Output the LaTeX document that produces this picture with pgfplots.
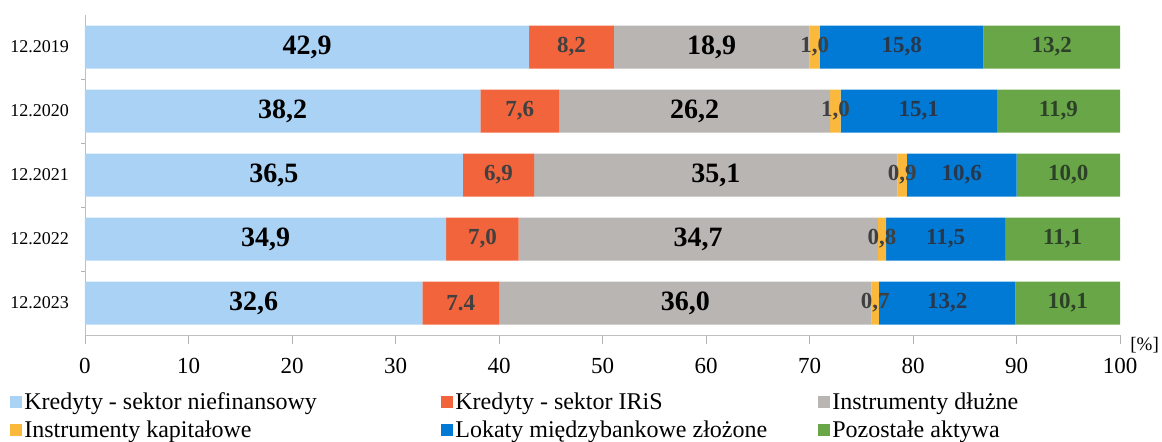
\documentclass[border=0pt]{standalone}
\usepackage{pgfplots}
\pgfplotsset{compat=1.18}
\usepackage{fontspec}
\setmainfont{Liberation Serif}
\definecolor{c1}{RGB}{170,210,245}
\definecolor{c2}{RGB}{242,100,60}
\definecolor{c3}{RGB}{184,181,179}
\definecolor{c4}{RGB}{250,185,60}
\definecolor{c5}{RGB}{0,122,212}
\definecolor{c6}{RGB}{104,166,72}
\pgfplotsset{
  frame/.style={at={(42.5pt,53pt)}, anchor=south west,
    scale only axis, width=517.5pt, height=160pt,
    xmin=0, xmax=100, ymin=-0.5, ymax=4.5, y dir=reverse},
  lbl/.style={only marks, mark=none, nodes near coords, point meta=explicit symbolic,
    every node near coord/.style={anchor=center, inner sep=0pt, font=#1}},
}
\begin{document}
\begin{tikzpicture}
\useasboundingbox (0,0) rectangle (581pt,220.5pt);
\begin{axis}[
  name=ax, frame,
  xbar stacked, bar width=21.5pt,
  xtick={0,10,...,100},
  ytick={0,1,2,3,4},
  yticklabels={12.2019,12.2020,12.2021,12.2022,12.2023},
  minor ytick={0.5,1.5,2.5,3.5},
  axis x line*=bottom, axis y line*=left,
  axis line style={draw=black!25, -},
  tick align=outside,
  x tick style={draw=black!30},
  y tick style={draw=black!30},
  major tick length=4.5pt,
  minor tick length=2pt,
  every major y tick/.append style={draw=none},
  x tick label style={font=\fontsize{11.5}{11.5}\selectfont, yshift=-3.5pt},
  y tick label style={font=\fontsize{9}{9}\selectfont},
  /pgf/number format/assume math mode=true,
  legend style={at={(-0.0725,-0.172)}, anchor=north west, draw=none, fill=none,
    font=\fontsize{12}{13}\selectfont, inner sep=0pt, row sep=2pt,
    nodes={inner sep=1pt}},
  legend cell align=left,
  legend columns=3,
  legend image code/.code={\fill[#1] (0pt,-3pt) rectangle (6pt,3pt);},
]
\addplot[draw=none, fill=c1] table[x=v, y=y] {
y v
0 42.9
1 38.2
2 36.5
3 34.9
4 32.6
};
\addlegendentry{\makebox[207.5pt][l]{Kredyty - sektor niefinansowy}}
\addplot[draw=none, fill=c2] table[x=v, y=y] {
y v
0 8.2
1 7.6
2 6.9
3 7.0
4 7.4
};
\addlegendentry{\makebox[180.5pt][l]{Kredyty - sektor IRiS}}
\addplot[draw=none, fill=c3] table[x=v, y=y] {
y v
0 18.9
1 26.2
2 35.1
3 34.7
4 36.0
};
\addlegendentry{Instrumenty dłużne}
\addplot[draw=none, fill=c4] table[x=v, y=y] {
y v
0 1.0
1 1.0
2 0.9
3 0.8
4 0.7
};
\addlegendentry{Instrumenty kapitałowe}
\addplot[draw=none, fill=c5] table[x=v, y=y] {
y v
0 15.8
1 15.1
2 10.6
3 11.5
4 13.2
};
\addlegendentry{Lokaty międzybankowe złożone}
\addplot[draw=none, fill=c6] table[x=v, y=y] {
y v
0 13.2
1 11.9
2 10.0
3 11.1
4 10.1
};
\addlegendentry{Pozostałe aktywa}
\end{axis}
\begin{axis}[frame, hide axis]
\addplot[lbl={\bfseries\fontsize{14}{14}\selectfont\color{black}}] table[x=x, y=y, meta=lab] {
x y lab
21.45 0 42,9
19.1 1 38,2
18.25 2 36,5
17.45 3 34,9
16.3 4 32,6
60.55 0 18,9
58.9 1 26,2
60.95 2 35,1
59.25 3 34,7
58.0 4 36,0
};
\addplot[lbl={\bfseries\fontsize{11.5}{11.5}\selectfont\color{black!75}}] table[x=x, y=y, meta=lab] {
x y lab
47.0 0 8,2
42.0 1 7,6
39.95 2 6,9
38.4 3 7,0
36.3 4 7.4
70.5 0 1,0
72.5 1 1,0
78.95 2 0,9
77.0 3 0,8
76.35 4 0,7
};
\addplot[lbl={\bfseries\fontsize{11.5}{11.5}\selectfont\color[RGB]{40,55,75}}] table[x=x, y=y, meta=lab] {
x y lab
78.9 0 15,8
80.55 1 15,1
84.7 2 10,6
83.15 3 11,5
83.3 4 13,2
};
\addplot[lbl={\bfseries\fontsize{11.5}{11.5}\selectfont\color[RGB]{45,65,40}}] table[x=x, y=y, meta=lab] {
x y lab
93.4 0 13,2
94.05 1 11,9
95.0 2 10,0
94.45 3 11,1
94.95 4 10,1
};
\end{axis}
\node[anchor=south west, font=\fontsize{9.5}{9.5}\selectfont, inner sep=0pt, xshift=5pt, yshift=-9pt] at (ax.south east) {[\%]};
\end{tikzpicture}
\end{document}
